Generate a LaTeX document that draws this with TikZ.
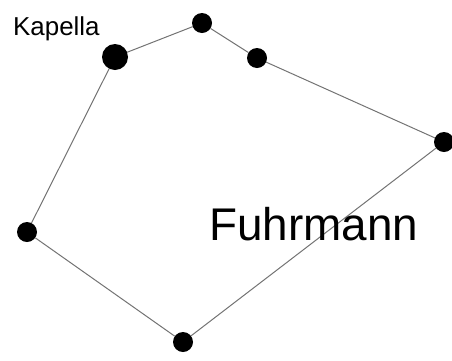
\documentclass[tikz,border=0pt]{standalone}
\usepackage{fontspec}
\setmainfont{Liberation Sans}
\usetikzlibrary{positioning}

\tikzset{
  star/.style={circle, fill=black, draw=none, inner sep=0pt, outer sep=0pt, minimum size=20bp},
  bigstar/.style={star, minimum size=26bp},
  link/.style={draw=black!55, line width=1bp}
}

\begin{document}
\begin{tikzpicture}[x=1bp,y=-1bp]
\useasboundingbox (0,0) rectangle (452,360);
\node[bigstar] (kapella) at (115,57) {};
\node[star] (s2) at (202,23) {};
\node[star] (s3) at (257,58) {};
\node[star] (s4) at (444,142) {};
\node[star] (s5) at (183,342) {};
\node[star] (s6) at (27,232) {};
\draw[link] (kapella) -- (s2) -- (s3) -- (s4) -- (s5) -- (s6) -- (kapella);
\node[anchor=base west, inner sep=0pt, font=\fontsize{26}{28}\selectfont] (kaplabel) at (13,35) {Kapella};
\node[anchor=base west, inner sep=0pt, font=\fontsize{46}{50}\selectfont] (name) at (209,240) {Fuhrmann};
\end{tikzpicture}
\end{document}
